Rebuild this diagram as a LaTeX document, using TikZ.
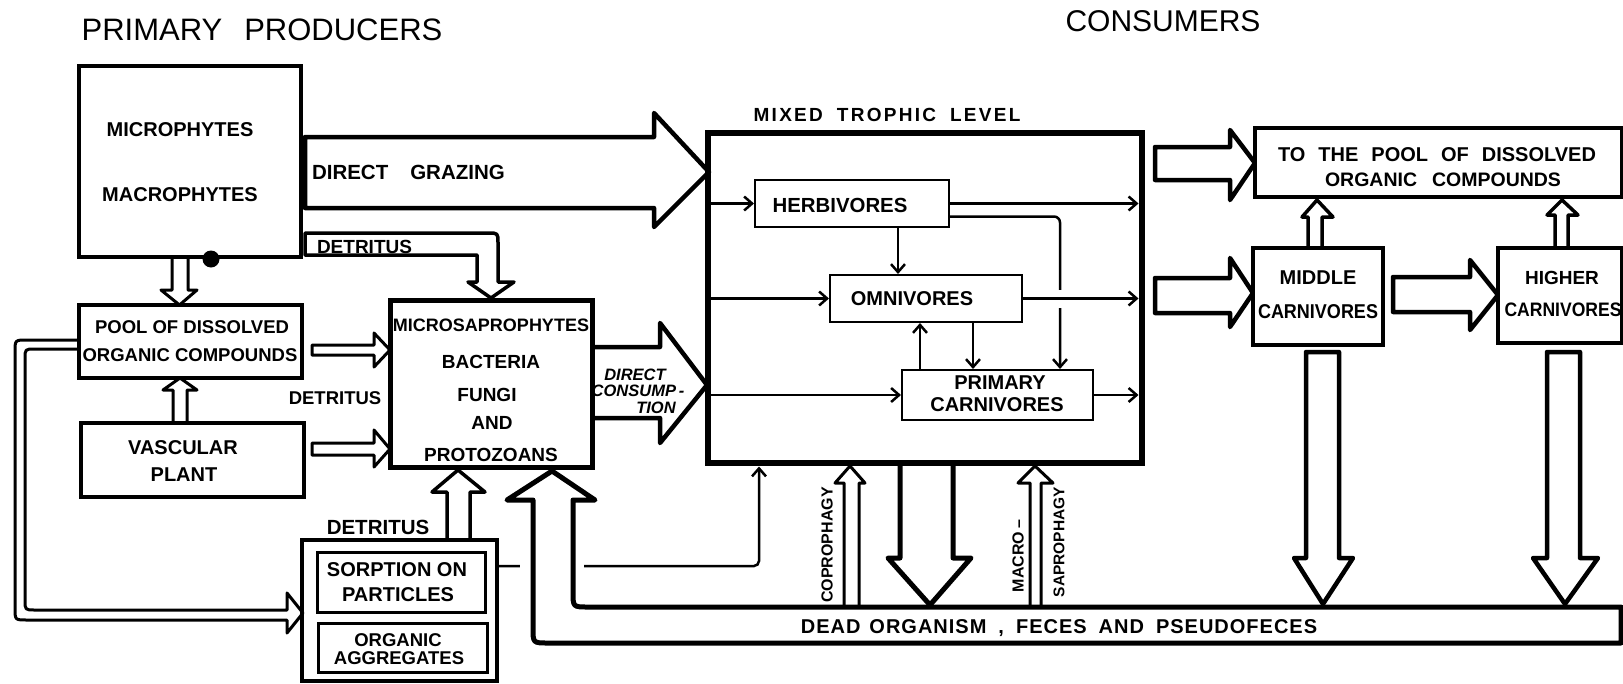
\documentclass[tikz,border=0pt]{standalone}
\usepackage{fontspec}
\setmainfont{Liberation Sans}
\newfontfamily\lab{Liberation Sans}
\newfontfamily\labc{Liberation Sans}[FakeStretch=0.9]
\newfontfamily\labs{Liberation Sans}[LetterSpace=12]
\newfontfamily\labt{Liberation Sans}[LetterSpace=5]
\usetikzlibrary{arrows.meta,calc}
\newcommand\fz[1]{\fontsize{#1}{#1}\selectfont}
\begin{document}
\begin{tikzpicture}[x=1pt,y=-1pt,
  every node/.style={inner sep=0pt, outer sep=0pt},
  box/.style={draw, line width=#1, rectangle},
  box/.default=4pt,
  txt/.style={font=\lab\bfseries\fz{#1}, text depth=0pt},
  txc/.style={font=\labc\bfseries\fz{#1}, text depth=0pt},
  hol/.style={draw=black, fill=white, line width=#1, line join=round},
  hol/.default=3.5pt,
  conn/.style={line width=2.5pt, -{Straight Barb[length=8pt,width=14pt]}, shorten >=1pt},
  toedge/.style={shorten >=3.5pt}
]
\useasboundingbox (0,0) rectangle (1623,683);
\clip (0,0) rectangle (1623,683);
\fill[white] (0,0) rectangle (1623,683);

% ---------- boxes (named, drawn later) ----------
\path
  node[minimum width=222pt, minimum height=191pt] (mp) at (190,161.5) {}
  node[minimum width=223pt, minimum height=73pt] (pool) at (190.5,341.5) {}
  node[minimum width=223pt, minimum height=74pt] (vasc) at (192.5,460) {}
  node[minimum width=202pt, minimum height=167pt] (micro) at (491,383.5) {}
  node[minimum width=195pt, minimum height=141pt] (sorpo) at (399.5,610.5) {}
  node[minimum width=434pt, minimum height=330pt] (mixed) at (925,298) {}
  node[minimum width=194pt, minimum height=47pt] (herb) at (852,203.5) {}
  node[minimum width=192pt, minimum height=47pt] (omni) at (926,298.5) {}
  node[minimum width=191pt, minimum height=50pt] (pc) at (997.5,395) {};

% ---------- connector from sorption box into mixed level ----------
\coordinate (s1) at ($(sorpo.east)+(0,-44.5)$);
\draw[conn, toedge, rounded corners=5pt] (s1) -| ($(mixed.south)+(-166,0)$);
\fill[white] (520,557) rectangle (584,575);

% ---------- hollow block arrows ----------
% microphytes -> pool
\draw[hol=3pt] (172,257) -- (172,290) -- (161,290) -- (179.5,305) -- (197,290) -- (188,290) -- (188,257);
% vascular -> pool
\draw[hol=3pt] (173,423) -- (173,390) -- (163,390) -- (180,378) -- (197,390) -- (187,390) -- (187,423);
% direct grazing
\draw[hol=4.5pt] (305,137) -- (654,137) -- (654,113) -- (709,172) -- (654,227) -- (654,208) -- (305,208) -- cycle;
% detritus bent arrow
\draw[hol=3.5pt] (305,233) -- (488,233) .. controls (498,233) .. (498,243) -- (498,282) -- (514,282) -- (491,298) -- (468,282) -- (477,282) -- (477,255) -- (305,255) -- cycle;
% detritus stubs into micro
\draw[hol=3pt] (312,345) -- (374,345) -- (374,333) -- (390,350) -- (374,367) -- (374,355) -- (312,355) -- cycle;
\draw[hol=3pt] (312,443) -- (374,443) -- (374,430) -- (390,449) -- (374,467) -- (374,455) -- (312,455) -- cycle;
% left loop pool -> sorption
\draw[hol=3pt] (79,340) -- (27,340) .. controls (15,340) .. (15,352) -- (15,608) .. controls (15,620) .. (27,620) -- (287,620) -- (287,633) -- (303,613) -- (287,593) -- (287,610) -- (35,610) .. controls (25,610) .. (25,600) -- (25,359) .. controls (25,349) .. (35,349) -- (79,349);
% sorption -> micro
\draw[hol=3.5pt] (447,540) -- (447,492) -- (432,492) -- (458,470) -- (485,492) -- (470,492) -- (470,540);
% direct consumption
\draw[hol=4.5pt] (592,347) -- (660,347) -- (660,323) -- (707,385) -- (660,443) -- (660,418) -- (592,418);
% right side
\draw[hol=4.5pt] (1155,147) -- (1230,147) -- (1230,130) -- (1255,163) -- (1230,200) -- (1230,180) -- (1155,180) -- cycle;
\draw[hol=4.5pt] (1155,278) -- (1230,278) -- (1230,258) -- (1253,293) -- (1230,327) -- (1230,313) -- (1155,313) -- cycle;
\draw[hol=4.5pt] (1393,277) -- (1470,277) -- (1470,260) -- (1498,295) -- (1470,330) -- (1470,312) -- (1393,312) -- cycle;
\draw[hol=3.5pt] (1308,248) -- (1308,217) -- (1302,217) -- (1317,200) -- (1333,217) -- (1322,217) -- (1322,248);
\draw[hol=3.5pt] (1555,248) -- (1555,215) -- (1547,215) -- (1562,200) -- (1578,215) -- (1568,215) -- (1568,248);
\draw[hol=4.5pt] (1306,352) -- (1339,352) -- (1339,558) -- (1353,558) -- (1323,604) -- (1294,558) -- (1306,558) -- cycle;
\draw[hol=4.5pt] (1547,352) -- (1580,352) -- (1580,558) -- (1598,558) -- (1565,604) -- (1533,558) -- (1547,558) -- cycle;
% under mixed level
\draw[hol=3pt] (844,607) -- (844,483) -- (835,483) -- (850,466) -- (865,483) -- (859,483) -- (859,607);
\draw[hol=5pt] (900,463) -- (900,558) -- (888,558) -- (930,605) -- (971,558) -- (953,558) -- (953,463);
\draw[hol=3pt] (1030,607) -- (1030,483) -- (1018,483) -- (1035,466) -- (1053,483) -- (1041,483) -- (1041,607);
% dead organism bar with U-turn arrow into micro
\draw[hol=5pt] (1621,607) -- (588,607) .. controls (573,607) .. (573,592) -- (573,500) -- (595,500) -- (552,471) -- (507,500) -- (533,500) -- (533,628) .. controls (533,643) .. (548,643) -- (1621,643) -- cycle;

% black dot
\fill (211,259) circle[radius=8.5pt];

% ---------- boxes ----------
\draw[line width=4pt] (mp.north west) rectangle (mp.south east);
\draw[line width=4pt] (pool.north west) rectangle (pool.south east);
\draw[line width=4pt] (vasc.north west) rectangle (vasc.south east);
\draw[line width=5pt] (micro.north west) rectangle (micro.south east);
\draw[line width=4pt] (sorpo.north west) rectangle (sorpo.south east);
\node[box=3pt, minimum width=168pt, minimum height=60pt] (sorp) at (401,582) {};
\node[box=3pt, minimum width=169pt, minimum height=49pt] (orgagg) at (402.5,647.5) {};
\draw[line width=6.5pt] (mixed.north west) rectangle (mixed.south east);
\draw[line width=2.5pt] (herb.north west) rectangle (herb.south east);
\draw[line width=2.5pt] (omni.north west) rectangle (omni.south east);
\draw[line width=2.5pt] (pc.north west) rectangle (pc.south east);
\node[box=4pt, minimum width=367pt, minimum height=69pt] (pooltop) at (1438.5,162.5) {};
\node[box=3.5pt, minimum width=130pt, minimum height=97pt] (mid) at (1318,296.5) {};
\node[box=3.5pt, minimum width=124pt, minimum height=95pt] (high) at (1560,295.5) {};

% ---------- connectors inside mixed level ----------
\draw[conn] (mixed.west |- herb.west) -- (herb.west);
\draw[conn] (mixed.west |- omni.west) -- (omni.west);
\draw[conn] (mixed.west |- pc.west) -- (pc.west);
\draw[conn, toedge] (herb.east) -- (mixed.east |- herb.east);
\coordinate (h2) at ($(herb.east)+(0,13)$);
\coordinate (p2) at ($(pc.north)+(62.5,0)$);
\draw[conn, rounded corners=6pt] (h2) -| (p2);
\coordinate (h1) at ($(herb.south)+(46,0)$);
\draw[conn] (h1) -- (h1 |- omni.north);
\draw[conn, toedge, preaction={draw=white, line width=18pt, -, shorten <=25pt, shorten >=30pt}] (omni.east) -- (mixed.east |- omni.east);
\coordinate (o1) at ($(omni.south)+(47,0)$);
\draw[conn] (o1) -- (o1 |- pc.north);
\coordinate (p1) at ($(pc.north)+(-77.5,0)$);
\draw[conn] (p1) -- (p1 |- omni.south);
\draw[conn, toedge] (pc.east) -- (mixed.east |- pc.east);

% ---------- texts ----------
\node[font=\lab\fz{31}] (tpp) at (262,30) {PRIMARY\hspace{22pt}PRODUCERS};
\node[font=\lab\fz{30}] (tcons) at (1163,21) {CONSUMERS};
\node[font=\labs\bfseries\fz{19}] (tmix) at (887,115) {MIXED\hspace{14pt}TROPHIC\hspace{14pt}LEVEL};

\node[txt=20] at (180,130) {MICROPHYTES};
\node[txt=20] at (180,195) {MACROPHYTES};
\node[txt=18.5] at (192,327) {POOL OF DISSOLVED};
\node[txt=18.5] at (190,355) {ORGANIC COMPOUNDS};
\node[txt=20] at (183,448) {VASCULAR};
\node[txt=20] at (184,475) {PLANT};
\node[txt=19, anchor=west] at (317,247) {DETRITUS};
\node[txt=20.5, anchor=west] at (312,172) {DIRECT\hspace{22pt}GRAZING};
\node[txt=18.5] at (335,398) {DETRITUS};
\node[txt=18] at (491,325) {MICROSAPROPHYTES};
\node[txt=19] at (491,362) {BACTERIA};
\node[txt=19] at (487,395) {FUNGI};
\node[txt=19] at (492,423) {AND};
\node[txt=19] at (491,455) {PROTOZOANS};
\node[font=\lab\bfseries\itshape\fz{16.5}, text depth=0pt] at (635,375) {DIRECT};
\node[font=\lab\bfseries\itshape\fz{16.5}, text depth=0pt] at (638,391) {CONSUMP\,-};
\node[font=\lab\bfseries\itshape\fz{16.5}, text depth=0pt] at (656,408) {TION};
\node[txt=20.4] at (840,205) {HERBIVORES};
\node[txt=20] at (912,299) {OMNIVORES};
\node[txt=20] at (1000,383) {PRIMARY};
\node[txt=20] at (997,405) {CARNIVORES};
\node[txt=20] at (1437,155) {TO\hspace{13pt}THE\hspace{13pt}POOL\hspace{13pt}OF\hspace{13pt}DISSOLVED};
\node[txt=19.5] at (1443,180) {ORGANIC\hspace{15pt}COMPOUNDS};
\node[txt=20] at (1318,278) {MIDDLE};
\node[txc=20] at (1318,312) {CARNIVORES};
\node[txt=19] at (1562,278) {HIGHER};
\node[txc=19.5] at (1563,310) {CARNIVORES};
\node[txt=20.5] at (378,527) {DETRITUS};
\node[txt=20] at (397,570) {SORPTION ON};
\node[txt=20] at (398,595) {PARTICLES};
\node[txt=18.5] at (398,640) {ORGANIC};
\node[txt=18.5] at (399,658) {AGGREGATES};
\node[txt=16, rotate=90] at (827,545) {COPROPHAGY};
\node[txt=16, rotate=90] at (1018,556) {MACRO\,–};
\node[txt=15.5, rotate=90] at (1059,542) {SAPROPHAGY};
\node[font=\labt\bfseries\fz{20}, text depth=0pt] (dead) at (1059,627) {DEAD\hspace{9pt}ORGANISM\hspace{12pt},\hspace{12pt}FECES\hspace{12pt}AND\hspace{12pt}PSEUDOFECES};
\end{tikzpicture}
\end{document}
